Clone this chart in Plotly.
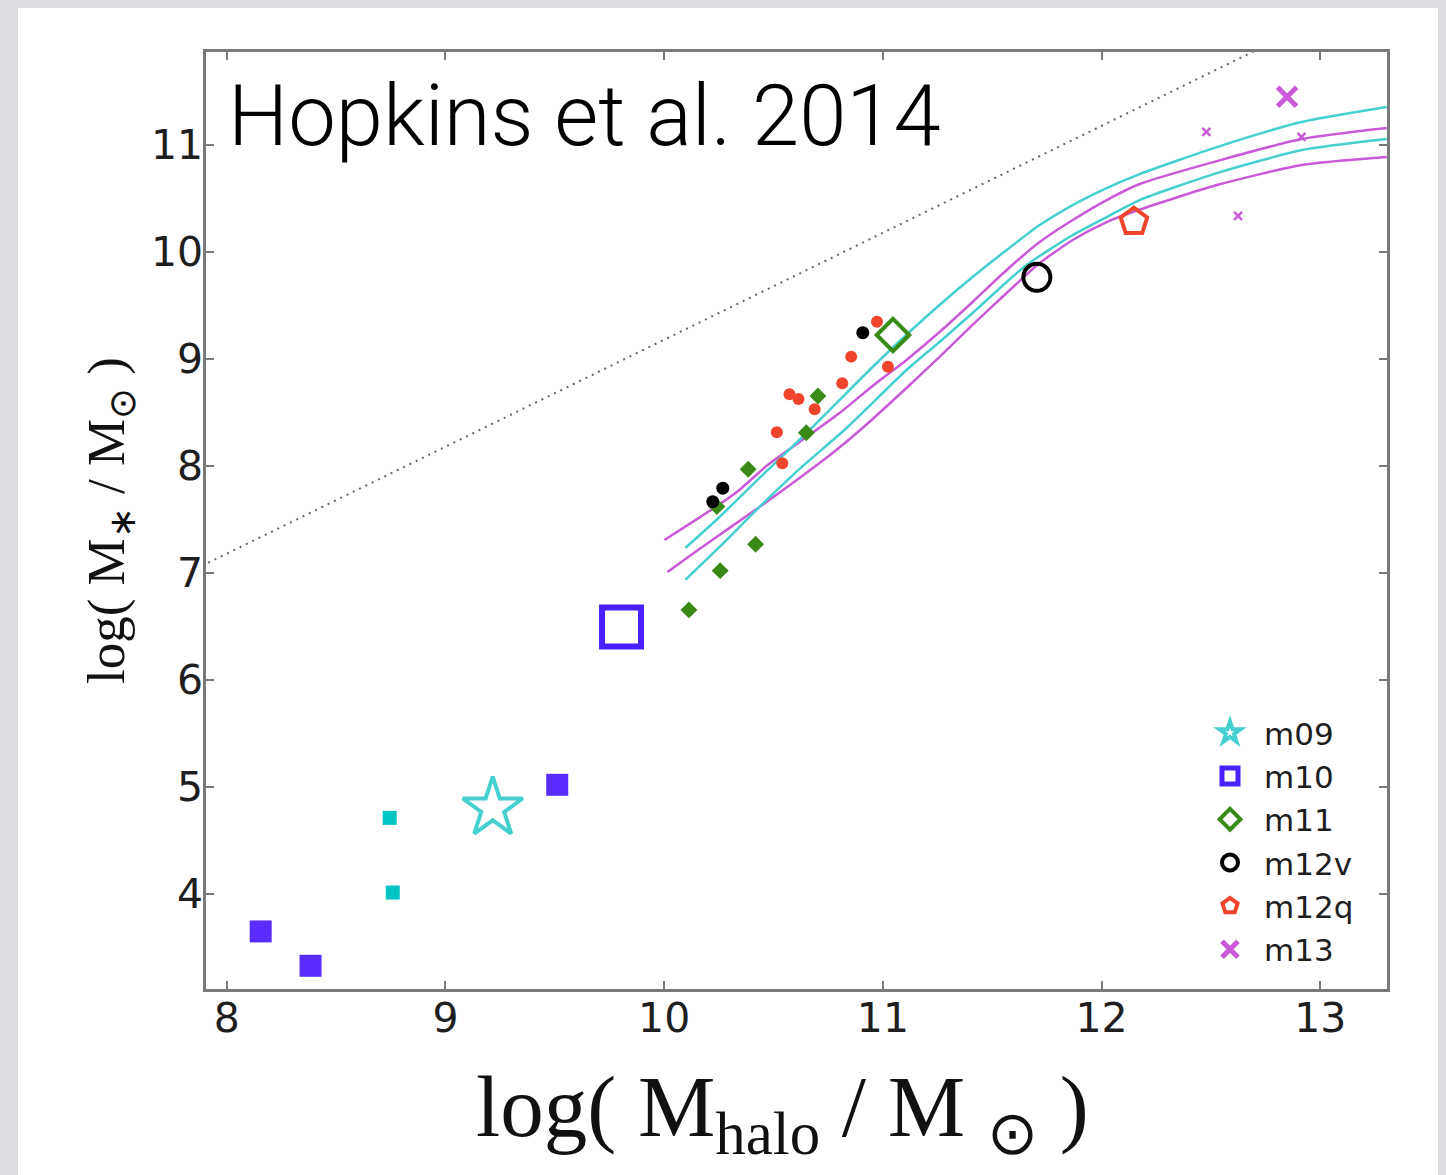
import plotly.graph_objects as go

# ---------------- data ----------------
# large "simulation" markers
m09_x = [9.216];  m09_y = [4.80]
m10_x = [9.805];  m10_y = [6.495]
m11_x = [11.046]; m11_y = [9.224]
m12v_x = [11.704]; m12v_y = [9.764]
m12q_x = [12.148]; m12q_y = [10.283]
m13_x = [12.848]; m13_y = [11.451]

# small markers
m10_small_x = [8.155, 8.383, 9.511]
m10_small_y = [3.648, 3.327, 5.019]
m09_small_x = [8.745, 8.759]
m09_small_y = [4.710, 4.012]
m11_small_x = [10.113, 10.256, 10.418, 10.241, 10.384, 10.650, 10.703]
m11_small_y = [6.654, 7.021, 7.268, 7.620, 7.969, 8.311, 8.654]
m12v_small_x = [10.222, 10.268, 10.908]
m12v_small_y = [7.666, 7.792, 9.246]
m12q_small_x = [10.973, 10.855, 11.023, 10.814, 10.573, 10.614, 10.688, 10.515, 10.540]
m12q_small_y = [9.349, 9.022, 8.928, 8.773, 8.670, 8.626, 8.530, 8.315, 8.025]
m13_small_x = [12.479, 12.914, 12.624]
m13_small_y = [11.124, 11.077, 10.339]

# abundance-matching curves
cyan_upper_x = [10.097, 10.253, 10.436, 10.651, 10.802, 10.953, 11.131, 11.259, 11.410,
                11.566, 11.717, 11.868, 12.023, 12.174, 12.527, 12.915, 13.304]
cyan_upper_y = [7.234, 7.523, 7.888, 8.308, 8.617, 8.925, 9.271, 9.505, 9.766,
                10.019, 10.252, 10.439, 10.598, 10.729, 10.981, 11.215, 11.355]
magenta_upper_x = [10.001, 10.116, 10.235, 10.344, 10.473, 10.619, 10.802, 10.953, 11.108,
                   11.259, 11.410, 11.566, 11.717, 11.868, 12.023, 12.174, 12.527, 12.915, 13.304]
magenta_upper_y = [7.308, 7.458, 7.617, 7.776, 8.009, 8.224, 8.495, 8.748, 8.991,
                   9.252, 9.533, 9.832, 10.093, 10.299, 10.486, 10.636, 10.850, 11.056, 11.159]
cyan_lower_x = [10.097, 10.253, 10.436, 10.619, 10.834, 11.108, 11.259, 11.410, 11.566,
                11.657, 11.868, 12.023, 12.174, 12.527, 12.915, 13.304]
cyan_lower_y = [6.935, 7.243, 7.617, 7.972, 8.355, 8.897, 9.159, 9.430, 9.720,
                9.879, 10.159, 10.327, 10.486, 10.738, 10.953, 11.056]
magenta_lower_x = [10.015, 10.161, 10.299, 10.436, 10.619, 10.770, 10.907, 11.108, 11.259,
                   11.410, 11.566, 11.717, 11.868, 12.023, 12.142, 12.527, 12.915, 13.304]
magenta_lower_y = [7.009, 7.224, 7.421, 7.617, 7.888, 8.121, 8.355, 8.729, 9.019,
                   9.318, 9.617, 9.897, 10.112, 10.280, 10.374, 10.626, 10.813, 10.888]

# dotted reference line (universal baryon fraction)
baryon_x = [7.8, 13.0]
baryon_y = [6.98, 12.18]

x_ticks = [8, 9, 10, 11, 12, 13]
y_ticks = [4, 5, 6, 7, 8, 9, 10, 11]

# ---------------- styling ----------------
CYAN = "#46cfcf"
MAG = "#c85ad8"
VIOLET = "#5a2cff"
BLUE = "#4a20ff"
GREEN = "#3a8a18"
RED = "#f0452c"
SMALL_CYAN = "#00c4c4"

fig = go.Figure()

fig.add_trace(go.Scatter(x=baryon_x, y=baryon_y, mode="lines", showlegend=False,
                         line=dict(color="#666666", width=2, dash="2px,5px")))
for xs, ys, col in [(magenta_upper_x, magenta_upper_y, MAG),
                    (magenta_lower_x, magenta_lower_y, MAG),
                    (cyan_upper_x, cyan_upper_y, CYAN),
                    (cyan_lower_x, cyan_lower_y, CYAN)]:
    fig.add_trace(go.Scatter(x=xs, y=ys, mode="lines", showlegend=False,
                             line=dict(color=col, width=2.5, shape="spline", smoothing=0.6)))

# small points
fig.add_trace(go.Scatter(x=m10_small_x, y=m10_small_y, mode="markers", showlegend=False,
                         marker=dict(symbol="square", size=22, color=VIOLET, line=dict(width=0))))
fig.add_trace(go.Scatter(x=m09_small_x, y=m09_small_y, mode="markers", showlegend=False,
                         marker=dict(symbol="square", size=14, color=SMALL_CYAN, line=dict(width=0))))
fig.add_trace(go.Scatter(x=m11_small_x, y=m11_small_y, mode="markers", showlegend=False,
                         marker=dict(symbol="diamond", size=13, color=GREEN, line=dict(width=0))))
fig.add_trace(go.Scatter(x=m12q_small_x, y=m12q_small_y, mode="markers", showlegend=False,
                         marker=dict(symbol="circle", size=12, color=RED, line=dict(width=0))))
fig.add_trace(go.Scatter(x=m12v_small_x, y=m12v_small_y, mode="markers", showlegend=False,
                         marker=dict(symbol="circle", size=13, color="black", line=dict(width=0))))
fig.add_trace(go.Scatter(x=m13_small_x, y=m13_small_y, mode="markers", showlegend=False,
                         marker=dict(symbol="x-thin", size=8, color=MAG, line=dict(width=2.5, color=MAG))))

# large markers (legend entries)
fig.add_trace(go.Scatter(x=m09_x, y=m09_y, mode="markers", name="m09",
                         marker=dict(symbol="star-open", size=45, color=CYAN, line=dict(width=4, color=CYAN))))
fig.add_trace(go.Scatter(x=m10_x, y=m10_y, mode="markers", name="m10",
                         marker=dict(symbol="square-open", size=39, color=BLUE, line=dict(width=6, color=BLUE))))
fig.add_trace(go.Scatter(x=m11_x, y=m11_y, mode="markers", name="m11",
                         marker=dict(symbol="diamond-open", size=25, color=GREEN, line=dict(width=4, color=GREEN))))
fig.add_trace(go.Scatter(x=m12v_x, y=m12v_y, mode="markers", name="m12v",
                         marker=dict(symbol="circle-open", size=27, color="black", line=dict(width=4, color="black"))))
fig.add_trace(go.Scatter(x=m12q_x, y=m12q_y, mode="markers", name="m12q",
                         marker=dict(symbol="pentagon-open", size=28, color=RED, line=dict(width=4, color=RED))))
fig.add_trace(go.Scatter(x=m13_x, y=m13_y, mode="markers", name="m13",
                         marker=dict(symbol="x-thin", size=19, color=MAG, line=dict(width=5, color=MAG))))

W, H = 1446, 1175
L, R, T, B = 206, 59, 52, 186
pw, ph = W - L - R, H - T - B

def px_x(p):
    return (p - L) / pw

def px_y(p):
    return (H - B - p) / ph

axis_common = dict(showgrid=False, zeroline=False, showline=True, linecolor="#7a7a7a", linewidth=2.5,
                   mirror="ticks", ticks="inside", ticklen=8, tickwidth=2, tickcolor="#7a7a7a",
                   tickfont=dict(family="DejaVu Sans", size=41, color="#1e1e1e"))

fig.update_layout(
    width=W, height=H,
    margin=dict(l=L, r=R, t=T, b=B, pad=0),
    paper_bgcolor="#dcdde1",
    plot_bgcolor="white",
    xaxis=dict(range=[7.905, 13.305], tickvals=x_ticks, ticktext=[str(v) for v in x_ticks],
               ticklabelstandoff=-9, **axis_common),
    yaxis=dict(range=[3.11, 11.87], tickvals=y_ticks, ticktext=[str(v) for v in y_ticks],
               ticklabelstandoff=-8, **axis_common),
    showlegend=True,
    legend=dict(x=px_x(1196), y=px_y(706), xanchor="left", yanchor="top",
                bgcolor="rgba(0,0,0,0)", borderwidth=0,
                font=dict(family="DejaVu Sans", size=31, color="#1e1e1e"),
                itemsizing="trace", itemwidth=58),
    shapes=[dict(type="rect", xref="paper", yref="paper", layer="below",
                 x0=px_x(18), x1=px_x(1438), y0=px_y(1180), y1=px_y(8),
                 fillcolor="white", line=dict(width=0))],
    annotations=[
        dict(text="Hopkins et al. 2014", xref="paper", yref="paper", x=px_x(226), y=px_y(116),
             xanchor="left", yanchor="middle", showarrow=False,
             font=dict(family="Roboto", size=85, color="black", weight=300)),
        dict(text="log( M<sub>halo</sub> / M <sub>⊙</sub> )", xref="paper", yref="paper",
             x=px_x(782), y=px_y(1112), xanchor="center", yanchor="middle", showarrow=False,
             font=dict(family="Liberation Serif", size=87, color="#111111")),
        dict(text="log( M<sub>∗</sub> / M<sub>⊙</sub> )", xref="paper", yref="paper",
             x=px_x(110), y=px_y(521), xanchor="center", yanchor="middle", showarrow=False,
             textangle=-90,
             font=dict(family="Liberation Serif", size=53, color="#111111")),
    ],
)

fig.write_html(
    "out.html",
    config={"displayModeBar": False},
    post_script="document.body.style.margin='0';document.body.style.overflow='hidden';"
                "document.body.style.background='#dcdde1';",
)
